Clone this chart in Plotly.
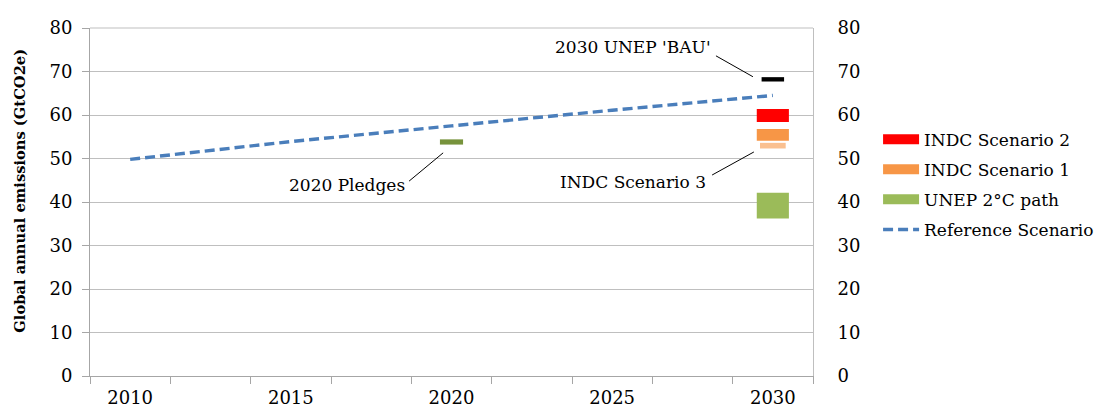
import plotly.graph_objects as go

# Reference scenario path (GtCO2e)
ref_years = [2010, 2015, 2020, 2025, 2030]
ref_values = [49.8, 53.9, 57.5, 61.1, 64.5]

# Emission ranges drawn as floating boxes: (low, high)
indc2_range = [58.4, 61.4]
indc1_range = [54.1, 56.8]
indc3_range = [52.3, 53.6]
unep2c_range = [36.2, 42.1]
bau_range = [67.7, 68.7]
pledges2020_range = [53.2, 54.4]

box_year_2030 = 2030
box_year_2020 = 2020

x_tick_labels = [2010, 2015, 2020, 2025, 2030]
y_ticks = [0, 10, 20, 30, 40, 50, 60, 70, 80]

FONT = "DejaVu Serif"
GRID = "#BFBFBF"

fig = go.Figure()


def add_box(year, rng, color, width, name, group, legend):
    fig.add_trace(go.Bar(
        x=[year], y=[rng[1] - rng[0]], base=[rng[0]], width=[width],
        marker=dict(color=color, line=dict(width=0)),
        name=name, legendgroup=group, showlegend=False, hoverinfo="skip",
    ))
    if legend:
        # legend swatch drawn as a thick line segment
        fig.add_trace(go.Scatter(
            x=[None], y=[None], mode="lines", name=name, legendgroup=group,
            line=dict(color=color, width=11), showlegend=True,
        ))


add_box(box_year_2030, indc2_range, "#FF0000", 1.0, "INDC Scenario 2", "g1", True)
add_box(box_year_2030, indc1_range, "#F79646", 1.0, "INDC Scenario 1", "g2", True)
add_box(box_year_2030, unep2c_range, "#9BBB59", 1.0, "UNEP 2°C path", "g3", True)
add_box(box_year_2030, indc3_range, "#FAC090", 0.8, "INDC Scenario 3", "g5", False)
add_box(box_year_2030, bau_range, "#000000", 0.7, "2030 UNEP 'BAU'", "g6", False)
add_box(box_year_2020, pledges2020_range, "#77933C", 0.72, "2020 Pledges", "g7", False)

fig.add_trace(go.Scatter(
    x=ref_years, y=ref_values, mode="lines", name="Reference Scenario",
    legendgroup="g4",
    line=dict(color="#4A7EBB", width=3.4, dash="10px,5px"),
    hoverinfo="skip",
))

# invisible trace to anchor the secondary axes
fig.add_trace(go.Scatter(x=[None], y=[None], xaxis="x2", yaxis="y2", showlegend=False))

# Callout labels with leader lines
callouts = [
    ("2030 UNEP 'BAU'", 2028.14, 75.6, (2028.23, 73.6), (2029.38, 68.8)),
    ("2020 Pledges", 2018.62, 43.9, (2018.68, 44.8), (2019.74, 51.3)),
    ("INDC Scenario 3", 2027.98, 44.6, (2028.11, 46.2), (2029.41, 51.5)),
]
for text, tx, ty, p0, p1 in callouts:
    fig.add_annotation(x=tx, y=ty, text=text, showarrow=False, xanchor="right",
                       yanchor="middle", font=dict(family=FONT, size=17, color="#000"))
    fig.add_shape(type="line", x0=p0[0], y0=p0[1], x1=p1[0], y1=p1[1],
                  line=dict(color="#000", width=1))

# y-axis title placed as rotated text left of the tick labels
fig.add_annotation(xref="paper", yref="paper", x=-0.097, y=0.532,
                   text="<b>Global annual emissions (GtCO2e)</b>", textangle=-90,
                   showarrow=False, xanchor="center", yanchor="middle",
                   font=dict(family=FONT, size=14.7, color="#000"))

fig.update_layout(
    width=1097, height=408,
    margin=dict(l=90, r=284, t=28, b=32, autoexpand=False),
    paper_bgcolor="white", plot_bgcolor="white",
    barmode="overlay",
    font=dict(family=FONT, size=18, color="#000"),
    showlegend=True,
    legend=dict(x=1.09, y=0.731, xanchor="left", yanchor="top",
                font=dict(family=FONT, size=17), tracegroupgap=5,
                itemwidth=36, bgcolor="rgba(0,0,0,0)"),
    xaxis=dict(
        range=[2008.75, 2031.25], automargin=False,
        tickvals=[2008.75 + 2.5 * i for i in range(10)],
        ticktext=[""] * 10,
        ticks="outside", ticklen=7, tickcolor="#A6A6A6",
        showline=True, linecolor="#A6A6A6", linewidth=1,
        showgrid=False, zeroline=False, mirror=False,
    ),
    xaxis2=dict(
        overlaying="x", matches="x", side="bottom", automargin=False,
        range=[2008.75, 2031.25],
        tickvals=x_tick_labels, ticktext=[str(v) for v in x_tick_labels],
        ticks="outside", ticklen=5, tickcolor="rgba(0,0,0,0)",
        showline=False, showgrid=False, zeroline=False,
        tickfont=dict(family=FONT, size=18),
    ),
    yaxis=dict(
        range=[0, 80], tickvals=y_ticks, automargin=False,
        ticks="outside", ticklen=7, tickcolor="#A6A6A6",
        showline=True, linecolor="#A6A6A6", linewidth=1,
        showgrid=True, gridcolor=GRID, gridwidth=1, zeroline=False,
        tickfont=dict(family=FONT, size=18), ticklabelstandoff=6,
    ),
    yaxis2=dict(
        overlaying="y", side="right", range=[0, 80], tickvals=y_ticks,
        automargin=False,
        showline=True, linecolor="#BFBFBF", linewidth=1,
        showgrid=False, zeroline=False, ticks="", ticklen=0,
        tickfont=dict(family=FONT, size=18), ticklabelstandoff=20,
    ),
)

# top border of the plot area
fig.add_shape(type="line", xref="paper", yref="paper", x0=0, x1=1, y0=1, y1=1,
              line=dict(color=GRID, width=1))

fig.write_html("out.html")
